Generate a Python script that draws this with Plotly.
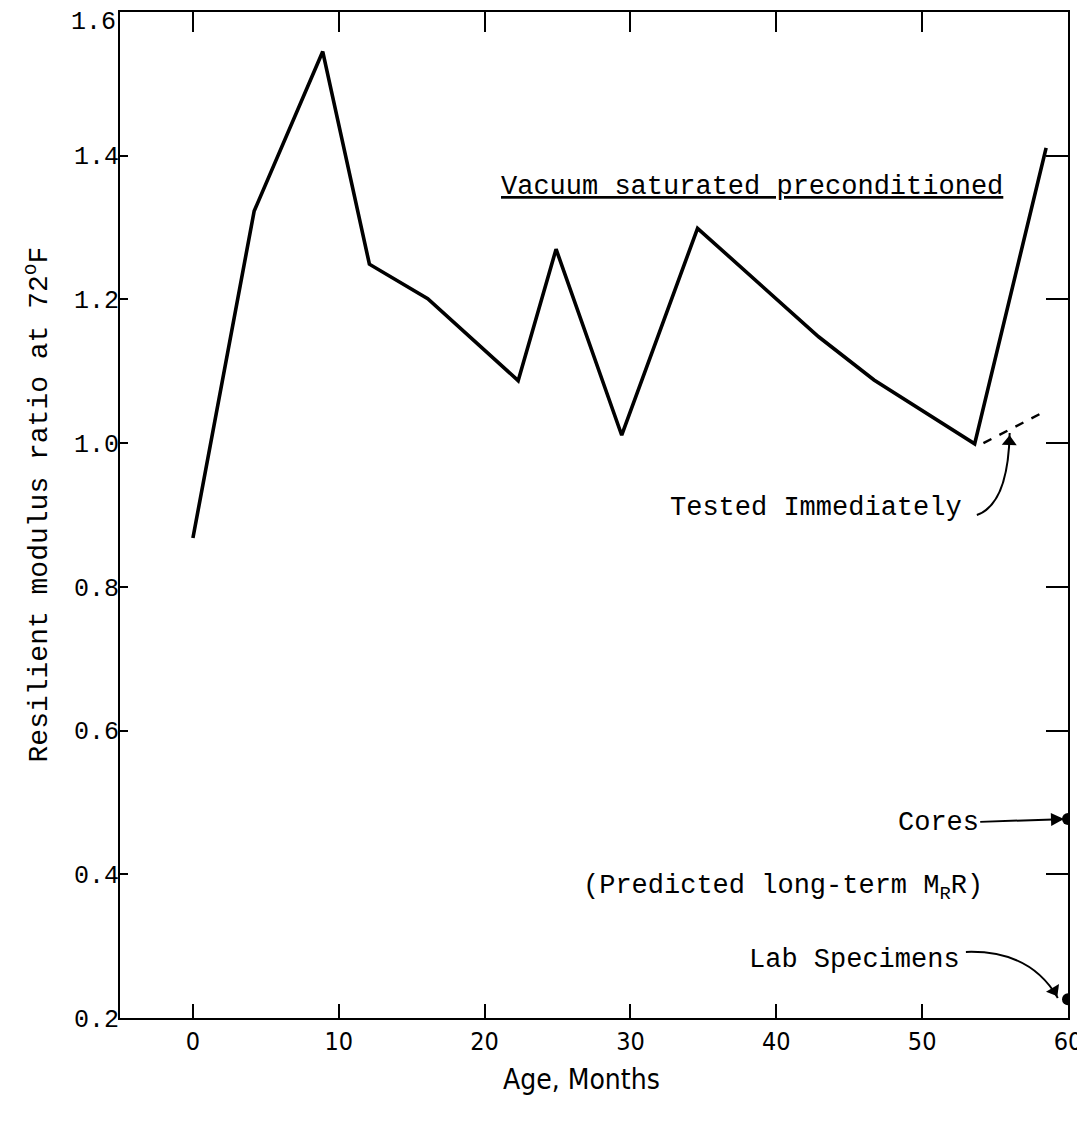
import plotly.graph_objects as go

# ---- data ----
age_months = [0, 4.2, 8.9, 12.1, 16.1, 22.3, 24.9, 29.4, 34.6, 42.9, 46.7, 53.6, 58.5]
mr_ratio = [0.868, 1.323, 1.545, 1.249, 1.201, 1.087, 1.270, 1.011, 1.299, 1.148, 1.088, 0.999, 1.411]

tested_age = [54.2, 58.5]
tested_ratio = [1.000, 1.045]

cores_age = [60]
cores_ratio = [0.477]
lab_age = [60]
lab_ratio = [0.226]

x_ticks = [0, 10, 20, 30, 40, 50, 60]
y_ticks = [0.2, 0.4, 0.6, 0.8, 1.0, 1.2, 1.4, 1.6]
y_tick_text = ["0.2", "0.4", "0.6", "0.8", "1.0", "1.2", "1.4", "1.6"]
right_ticks = [0.4, 0.6, 0.8, 1.0, 1.2, 1.4]

# annotation geometry (data coordinates)
tested_curve = [(53.75, 0.900), (55.9, 0.915), (56.0, 1.014)]
lab_curve = [(53.0, 0.292), (57.4, 0.295), (59.3, 0.228)]
arrowhead_x = [55.98, 59.05]
arrowhead_y = [1.002, 0.238]
arrowhead_angle = [2, 150]

MONO = "Liberation Mono, Courier New, monospace"
NARROW = "Liberation Sans Narrow, DejaVu Sans Condensed, Arial Narrow, sans-serif"

fig = go.Figure()

fig.add_trace(go.Scatter(x=age_months, y=mr_ratio, mode="lines",
                         line=dict(color="black", width=3.6), showlegend=False))
fig.add_trace(go.Scatter(x=tested_age, y=tested_ratio, mode="lines",
                         line=dict(color="black", width=2.4, dash="dash"), showlegend=False))
fig.add_trace(go.Scatter(x=cores_age + lab_age, y=cores_ratio + lab_ratio, mode="markers",
                         marker=dict(color="black", size=12), cliponaxis=True, showlegend=False))
# arrowheads of the curved pointers
fig.add_trace(go.Scatter(x=arrowhead_x, y=arrowhead_y, mode="markers",
                         marker=dict(symbol="triangle-up", size=13, color="black",
                                     angle=arrowhead_angle),
                         showlegend=False, hoverinfo="skip"))
# empty trace to activate the secondary (top / right) tick axes
fig.add_trace(go.Scatter(x=[None], y=[None], xaxis="x2", yaxis="y2", showlegend=False,
                         hoverinfo="skip"))

def qpath(pts):
    (x0, y0), (cx, cy), (x1, y1) = pts
    return f"M {x0},{y0} Q {cx},{cy} {x1},{y1}"

fig.add_shape(type="path", path=qpath(tested_curve), xref="x", yref="y",
              line=dict(color="black", width=2))
fig.add_shape(type="path", path=qpath(lab_curve), xref="x", yref="y",
              line=dict(color="black", width=2))

ann_font = dict(family=MONO, size=27, color="black")

fig.add_annotation(x=38.3, y=1.356, xref="x", yref="y",
                   text="<u>Vacuum saturated preconditioned</u>", showarrow=False,
                   font=ann_font, xanchor="center", yanchor="middle")
fig.add_annotation(x=52.9, y=0.910, xref="x", yref="y", text="Tested Immediately",
                   showarrow=False, font=ann_font, xanchor="right", yanchor="middle")
fig.add_annotation(x=cores_age[0], y=cores_ratio[0], xref="x", yref="y", text="Cores",
                   showarrow=True, axref="x", ayref="y", ax=51.1, ay=0.471,
                   arrowhead=2, arrowsize=1.3, arrowwidth=2, arrowcolor="black",
                   standoff=4, font=ann_font)
fig.add_annotation(x=54.3, y=0.381, xref="x", yref="y",
                   text="(Predicted long-term M<sub>R</sub>R)", showarrow=False,
                   font=ann_font, xanchor="right", yanchor="middle")
fig.add_annotation(x=52.73, y=0.281, xref="x", yref="y", text="Lab Specimens",
                   showarrow=False, font=ann_font, xanchor="right", yanchor="middle")

# top tick label (sits a little below the frame in the reference)
fig.add_annotation(x=0, y=y_ticks[-1], xref="paper", yref="y", text=y_tick_text[-1],
                   showarrow=False, xanchor="right", yanchor="middle", xshift=-2, yshift=-10,
                   font=dict(family=MONO, size=25, color="black"))

# axis titles
fig.add_annotation(x=-0.087, y=0.51, xref="paper", yref="paper",
                   text="Resilient modulus ratio at 72<sup>o</sup>F", textangle=-90,
                   showarrow=False, font=dict(family=MONO, size=28, color="black"),
                   xanchor="center", yanchor="middle")
fig.add_annotation(x=0.487, y=-0.061, xref="paper", yref="paper", text="Age, Months",
                   showarrow=False, font=dict(family=NARROW, size=28, color="black"),
                   xanchor="center", yanchor="middle")

# the page body adds an 8 px margin, so the figure is sized to fit the window
fig.update_layout(
    width=1077, height=1107,
    margin=dict(l=112, r=17, t=4, b=97, autoexpand=False),
    plot_bgcolor="white", paper_bgcolor="white",
    xaxis=dict(range=[-5, 60], tickvals=x_ticks, ticktext=[str(v) for v in x_ticks],
               ticks="inside", ticklen=14, tickwidth=2, tickcolor="black",
               showline=True, linecolor="black", linewidth=2, mirror=True,
               showgrid=False, zeroline=False, ticklabelstandoff=0, automargin=False,
               ticklabeloverflow="allow",
               tickfont=dict(family=NARROW, size=25, color="black")),
    yaxis=dict(range=[0.2, 1.6], tickvals=y_ticks[:-1], ticktext=y_tick_text[:-1],
               ticks="inside", ticklen=8, tickwidth=2, tickcolor="black",
               showline=True, linecolor="black", linewidth=2, mirror=True,
               showgrid=False, zeroline=False, ticklabelstandoff=-6, automargin=False,
               ticklabeloverflow="allow",
               tickfont=dict(family=MONO, size=25, color="black")),
    xaxis2=dict(overlaying="x", side="top", matches="x", tickvals=x_ticks,
                ticks="inside", ticklen=20, tickwidth=2, tickcolor="black", automargin=False,
                showticklabels=False, showgrid=False, zeroline=False, showline=False),
    yaxis2=dict(overlaying="y", side="right", matches="y", tickvals=right_ticks,
                ticks="inside", ticklen=22, tickwidth=2, tickcolor="black", automargin=False,
                showticklabels=False, showgrid=False, zeroline=False, showline=False),
)

fig.write_html("out.html")
